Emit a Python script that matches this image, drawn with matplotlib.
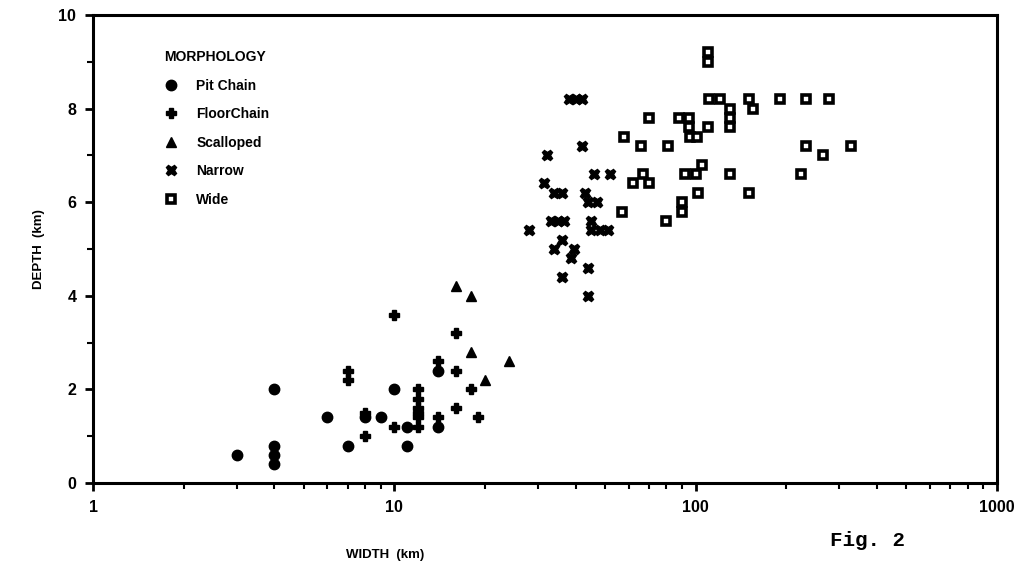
import numpy as np
import matplotlib.pyplot as plt
from matplotlib.ticker import LogLocator, FixedLocator, NullFormatter

# Datos (anchura km, profundidad km)
pit_w = [3, 4, 4, 4, 4, 6, 7, 8, 9, 10, 11, 11, 14, 14]
pit_d = [0.6, 2.0, 0.8, 0.6, 0.4, 1.4, 0.8, 1.4, 1.4, 2.0, 1.2, 0.8, 2.4, 1.2]

floor_w = [7, 7, 8, 8, 10, 10, 12, 12, 12, 12, 12, 12, 14, 14, 16, 16, 16, 18, 19]
floor_d = [2.4, 2.2, 1.5, 1.0, 3.6, 1.2, 2.0, 1.8, 1.6, 1.5, 1.4, 1.2, 2.6, 1.4,
           3.2, 2.4, 1.6, 2.0, 1.4]

scal_w = [16, 18, 18, 20, 24]
scal_d = [4.2, 4.0, 2.8, 2.2, 2.6]

narrow_w = [38, 40, 42, 42, 32, 46, 52, 31.5, 34, 36, 43, 44, 47, 28, 33, 35,
            36.5, 45, 45, 48, 51, 36, 34, 39.5, 38.5, 44, 36, 44]
narrow_d = [8.2, 8.2, 8.2, 7.2, 7.0, 6.6, 6.6, 6.4, 6.2, 6.2, 6.2, 6.0, 6.0, 5.4,
            5.6, 5.6, 5.6, 5.6, 5.4, 5.4, 5.4, 5.2, 5.0, 5.0, 4.8, 4.6, 4.4, 4.0]

wide_w = [110, 110, 111, 120, 150, 155, 190, 232, 276, 70, 88, 95, 95, 96, 101,
          110, 130, 130, 130, 58, 66, 81, 232, 327, 264, 67, 62, 70, 92, 100,
          105, 130, 223, 102, 150, 90, 90, 57, 80]
wide_d = [9.2, 9.0, 8.2, 8.2, 8.2, 8.0, 8.2, 8.2, 8.2, 7.8, 7.8, 7.8, 7.6, 7.4,
          7.4, 7.6, 8.0, 7.8, 7.6, 7.4, 7.2, 7.2, 7.2, 7.2, 7.0, 6.6, 6.4, 6.4,
          6.6, 6.6, 6.8, 6.6, 6.6, 6.2, 6.2, 6.0, 5.8, 5.8, 5.6]

plt.rcParams['font.family'] = ['Liberation Sans', 'DejaVu Sans']
plt.rcParams['font.weight'] = 'bold'

fig = plt.figure(figsize=(10.26, 5.81), dpi=100)
ax = fig.add_axes([93 / 1026, 1 - 483 / 581, (997 - 93) / 1026, (483 - 15) / 581])

ax.plot(pit_w, pit_d, 'o', color='black', markersize=7.5, label='Pit Chain')
ax.plot(floor_w, floor_d, 'P', color='black', markersize=7, label='FloorChain')
ax.plot(scal_w, scal_d, '^', color='black', markersize=7.5, label='Scalloped')
ax.plot(narrow_w, narrow_d, 'X', color='black', markersize=7.5, label='Narrow')
ax.plot(wide_w, wide_d, 's', markerfacecolor='white', markeredgecolor='black',
        markeredgewidth=2.6, markersize=6, label='Wide')

ax.set_xscale('log')
ax.set_xlim(1, 1000)
ax.set_ylim(0, 10)
ax.xaxis.set_major_locator(FixedLocator([1, 10, 100, 1000]))
ax.set_xticklabels(['1', '10', '100', '1000'])
ax.xaxis.set_minor_locator(LogLocator(base=10, subs=np.arange(2, 10)))
ax.xaxis.set_minor_formatter(NullFormatter())
ax.set_yticks([0, 2, 4, 6, 8, 10])
ax.yaxis.set_minor_locator(FixedLocator([1, 3, 5, 7, 9]))

for s in ax.spines.values():
    s.set_linewidth(2.2)
ax.tick_params(which='major', direction='out', length=6, width=2, labelsize=11.5, pad=6)
ax.tick_params(which='minor', direction='out', length=4, width=1.5)

ax.set_ylabel('DEPTH  (km)', fontsize=9.5, fontweight='bold', labelpad=10)
fig.text(385 / 1026, 1 - 555 / 581, 'WIDTH  (km)', fontsize=9.5, fontweight='bold',
         ha='center', va='center')
fig.text(830 / 1026, 1 - 540 / 581, 'Fig. 2', fontsize=15, family='Liberation Mono',
         ha='left', va='center')

leg = ax.legend(loc='upper left', bbox_to_anchor=(0.065, 0.952), frameon=False,
                title='MORPHOLOGY', alignment='left', fontsize=10,
                title_fontsize=10, handletextpad=1.3, labelspacing=1.05,
                handlelength=1.0)
leg.get_title().set_fontweight('bold')

fig.savefig('out.png', dpi=100)
